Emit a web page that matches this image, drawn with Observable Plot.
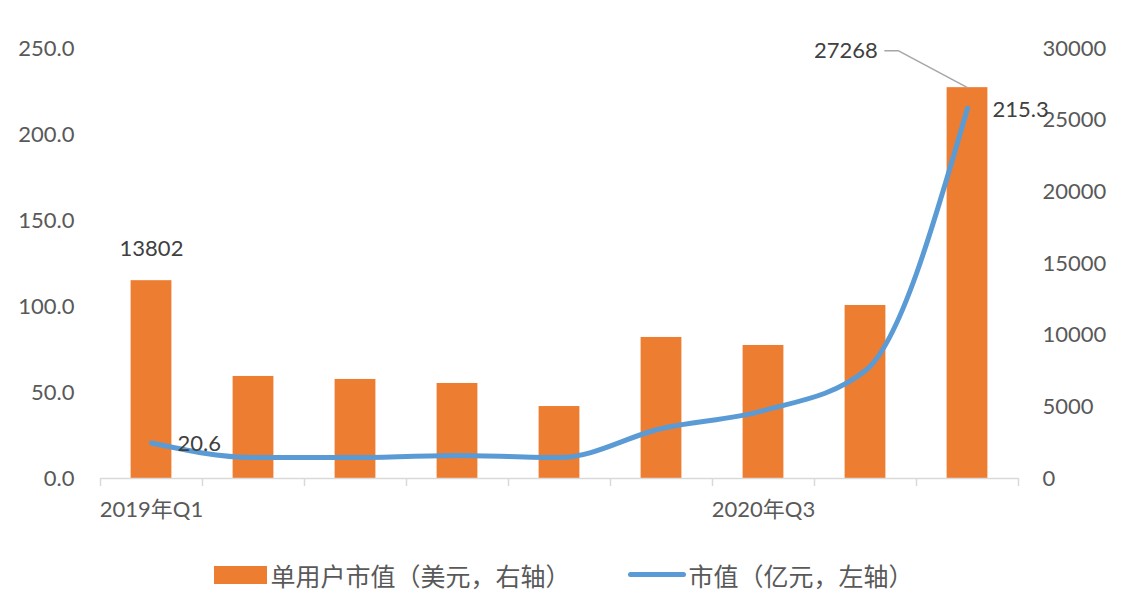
<!DOCTYPE html>
<html>
<head>
<meta charset="utf-8">
<script src="https://cdn.jsdelivr.net/npm/d3@7"></script>
<script src="https://cdn.jsdelivr.net/npm/@observablehq/plot@0.6"></script>
<style>
  html, body { margin: 0; padding: 0; background: #fff; }
  #chart { width: 1130px; }
  .legend { display: flex; justify-content: center; align-items: center; height: 69px; font-family: Lato, "Noto Sans CJK SC", sans-serif; font-size: 25px; color: #595959; gap: 57px; padding-right: 2px; }
  .item { display: flex; align-items: center; }
  .sw-bar { width: 53px; height: 18px; background: #ED7D31; margin-right: 3px; }
  .sw-line { width: 58px; height: 5px; border-radius: 3px; background: #5B9BD5; margin-right: 3px; }
</style>
</head>
<body>
<div id="chart"></div>
<div class="legend">
  <div class="item"><div class="sw-bar"></div><span>单用户市值（美元，右轴）</span></div>
  <div class="item"><div class="sw-line"></div><span>市值（亿元，左轴）</span></div>
</div>
<script>
const categories = ["2019年Q1","2019年Q2","2019年Q3","2019年Q4","2020年Q1","2020年Q2","2020年Q3","2020年Q4","2021年Q1"];
const perUserValue = [13802, 7120, 6910, 6630, 5020, 9840, 9280, 12070, 27268]; // 美元, right axis
const marketCap = [20.6, 12.2, 12.2, 13.4, 12.2, 29.1, 39.5, 62.8, 215.3];     // 亿元, left axis
const leftTicks = [0, 50, 100, 150, 200, 250];
const rightTicks = [0, 5000, 10000, 15000, 20000, 25000, 30000];
const shownCategoryLabels = ["2019年Q1", "2020年Q3"];

const k = 250 / 30000; // right-axis → left-axis units
const data = categories.map((c, i) => ({c, i, bar: perUserValue[i], line: marketCap[i]}));

const font = 'Lato, "Noto Sans CJK SC", sans-serif';
const last = data[data.length - 1];
const leader = [
  {x: last.i + 0.5, y: last.bar * k},
  {x: last.i + 0.5 - 0.68, y: last.bar * k + 21.5},
  {x: last.i + 0.5 - 0.81, y: last.bar * k + 21.5}
];

const chart = Plot.plot({
  width: 1130,
  height: 540,
  marginLeft: 100,
  marginRight: 112,
  marginTop: 48,
  marginBottom: 62,
  x: {type: "linear", domain: [0, categories.length], label: null},
  y: {domain: [0, 250], label: null},
  style: {fontFamily: font, fontSize: "22px", color: "#595959", background: "#fff"},
  marks: [
    Plot.rectY(data, {x1: d => d.i + 0.3, x2: d => d.i + 0.7, y1: 0, y2: d => d.bar * k, fill: "#ED7D31"}),
    Plot.ruleY([0], {stroke: "#d9d9d9", strokeWidth: 1.5}),
    Plot.axisX({ticks: d3.range(0, categories.length + 1), tickSize: 8, stroke: "#d9d9d9", strokeWidth: 1.5, tickFormat: () => "", label: null}),
    Plot.axisX({ticks: shownCategoryLabels.map(l => categories.indexOf(l) + 0.5), tickSize: 0, tickPadding: 23,
      tickFormat: d => categories[Math.floor(d)], fontSize: 22, label: null}),
    Plot.axisY({anchor: "left", ticks: leftTicks, tickSize: 0, tickPadding: 26, tickFormat: d => d.toFixed(1), label: null}),
    Plot.axisY({anchor: "right", ticks: rightTicks.map(v => v * k), tickSize: 0, tickPadding: 24,
      tickFormat: d => String(Math.round(d / k)), label: null}),
    Plot.line(data, {x: d => d.i + 0.5, y: "line", stroke: "#5B9BD5", strokeWidth: 5, curve: "monotone-x", strokeLinecap: "round", strokeLinejoin: "round"}),
    Plot.line(leader, {x: "x", y: "y", stroke: "#a6a6a6", strokeWidth: 1.5}),
    Plot.text([data[0]], {x: d => d.i + 0.5, y: d => d.bar * k, text: d => String(d.bar), dy: -32, fill: "#404040", fontSize: 22}),
    Plot.text([last], {x: d => d.i + 0.5 - 0.88, y: d => d.bar * k + 21.5, text: d => String(d.bar), textAnchor: "end", fill: "#404040", fontSize: 22}),
    Plot.text([data[0]], {x: d => d.i + 0.5, y: d => d.line, text: d => d.line.toFixed(1), dx: 26, dy: 1, textAnchor: "start", fill: "#404040", fontSize: 22}),
    Plot.text([last], {x: d => d.i + 0.5, y: d => d.line, text: d => d.line.toFixed(1), dx: 25, dy: 2, textAnchor: "start", fill: "#404040", fontSize: 22})
  ]
});
document.getElementById("chart").appendChild(chart);
</script>
</body>
</html>
